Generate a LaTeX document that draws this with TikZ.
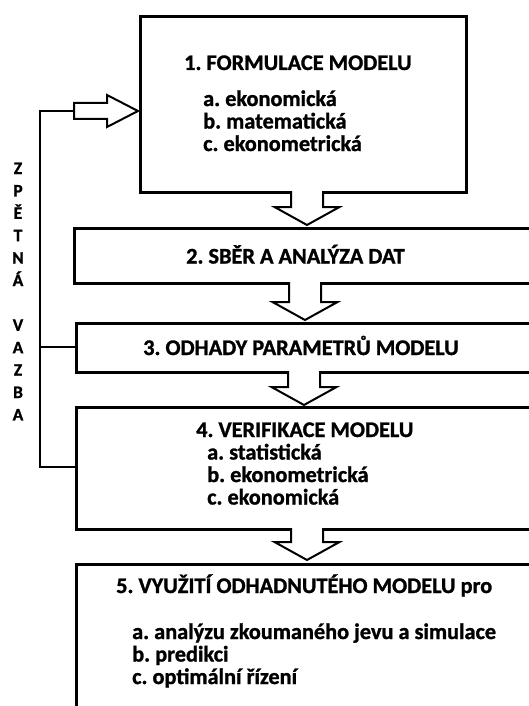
\documentclass[tikz,border=0pt]{standalone}
\usepackage{fontspec}
\setmainfont{Carlito}[BoldFeatures={FakeBold=1.2}]
\usetikzlibrary{calc}
\begin{document}
\frenchspacing
\begin{tikzpicture}[x=1pt,y=-1pt,
  box/.style={draw=black, line width=2.6pt, fill=white, rectangle, inner sep=0pt, anchor=north west},
  arrowline/.style={draw=black, line width=2pt, fill=white, line join=miter},
  fbline/.style={draw=black, line width=2.4pt},
  txt/.style={inner sep=0pt, anchor=base west, font=\fontsize{22.3}{24}\selectfont\bfseries},
  vtxt/.style={inner sep=0pt, anchor=base, font=\fontsize{17.5}{19}\selectfont\bfseries}
]
\useasboundingbox (0,0) rectangle (529,706);
\fill[white] (0,0) rectangle (529,706);
\clip (0,0) rectangle (529,706);

% boxes
\node[box, minimum width=326pt, minimum height=176pt] (b1) at (139,15) {};
\node[box, minimum width=500pt, minimum height=55pt] (b2) at (73,227) {};
\node[box, minimum width=500pt, minimum height=49pt] (b3) at (75,322) {};
\node[box, minimum width=500pt, minimum height=122pt] (b4) at (75,406) {};
\node[box, minimum width=500pt, minimum height=200pt] (b5) at (75,563) {};

% texts
\node[txt] (t1) at (184,70) {1. FORMULACE MODELU};
\node[txt] (t1a) at (203,106) {a. ekonomická};
\node[txt] (t1b) at (203,128.5) {b. matematická};
\node[txt] (t1c) at (203,151) {c. ekonometrická};
\node[txt] (t2) at (186,263.5) {2. SBĚR A ANALÝZA DAT};
\node[txt] (t3) at (143,355) {3. ODHADY PARAMETRŮ MODELU};
\node[txt] (t4) at (196,437) {4. VERIFIKACE MODELU};
\node[txt] (t4a) at (207,459.5) {a. statistická};
\node[txt] (t4b) at (207,482) {b. ekonometrická};
\node[txt] (t4c) at (207,504.5) {c. ekonomická};
\node[txt] (t5) at (116,593) {5. VYUŽITÍ ODHADNUTÉHO MODELU pro};
\node[txt] (t5a) at (132,639) {a. analýzu zkoumaného jevu a simulace};
\node[txt] (t5b) at (132,661.5) {b. predikci};
\node[txt] (t5c) at (132,684) {c. optimální řízení};

% vertical label
\foreach \l [count=\k from 0] in {Z,P,Ě,T,N,Á,{},V,A,Z,B,A} {
  \node[vtxt] (zv\k) at (18,174+22.4*\k) {\l};
}

% down block arrows
\newcommand{\blockdown}[3]{%
  \draw[arrowline] (#1-16,#2) -- (#1-16,#3-18) -- (#1-32.5,#3-18) -- (#1,#3)
    -- (#1+32.5,#3-18) -- (#1+16,#3-18) -- (#1+16,#2);}
\blockdown{307}{191}{225}
\blockdown{305}{282}{320}
\blockdown{304}{371}{405}
\blockdown{307}{528}{560}

% feedback loop
\coordinate (fbstart) at (40,111);
\coordinate (fbmid) at (40,347);
\coordinate (fbend) at (40,467);
\coordinate (fbtip) at ($(b1.north west)+(-1,96)$);
\draw[fbline] (fbtip -| 74,0) -- (fbstart) -- (fbend) -- (fbend -| b4.west);
\draw[fbline] (fbmid) -- (fbmid -| b3.west);
\draw[arrowline] (74,103) -- (107,103) -- (107,95) -- (fbtip) -- (107,127) -- (107,119) -- (74,119) -- cycle;
\end{tikzpicture}
\end{document}
